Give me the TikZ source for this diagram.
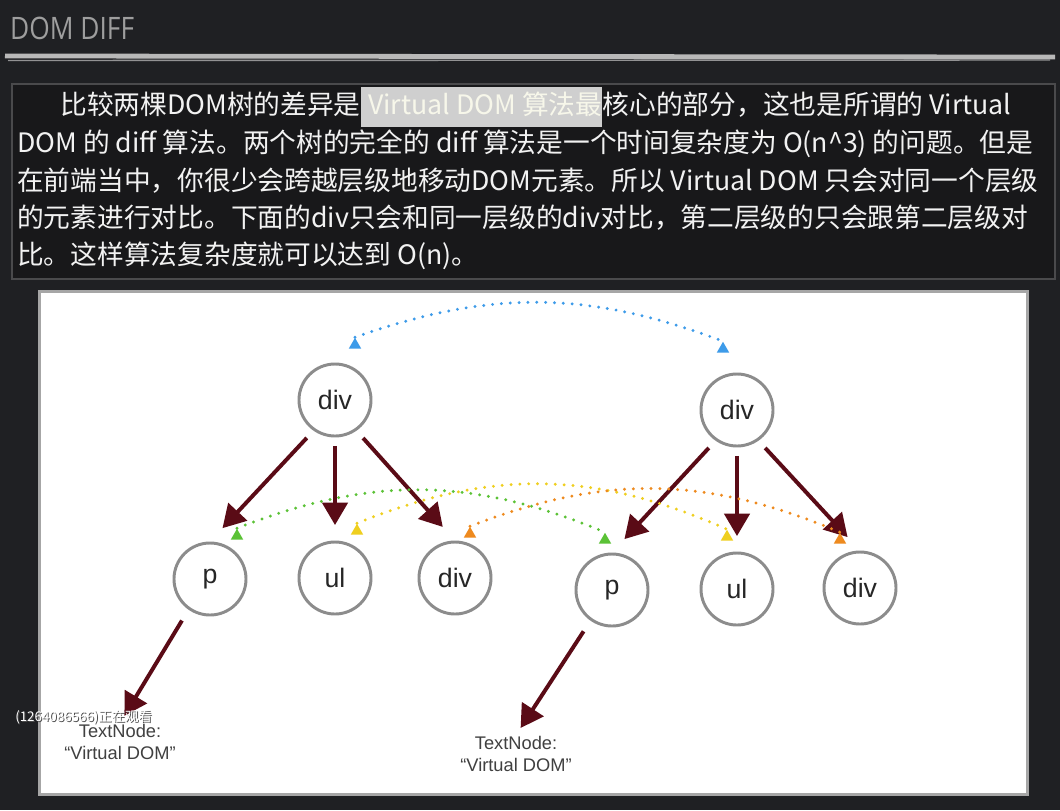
\documentclass[tikz,border=0pt]{standalone}
\usepackage{fontspec}
\setmainfont{Liberation Sans}
\newfontfamily\cjk{Noto Sans CJK SC}
\newfontfamily\titlefont{Open Sans}
\usetikzlibrary{positioning,arrows.meta,shapes.geometric}

\definecolor{bgdark}{HTML}{1F2023}
\definecolor{boxdark}{HTML}{18181A}
\definecolor{boxline}{HTML}{4A4A4C}
\definecolor{rulegray}{HTML}{B8B8B8}
\definecolor{titlegray}{HTML}{9E9E9E}
\definecolor{ring}{HTML}{8C8C8C}
\definecolor{maroon}{HTML}{5A0B16}
\definecolor{cblue}{HTML}{3D9BE9}
\definecolor{cgreen}{HTML}{5BC236}
\definecolor{cyellow}{HTML}{EFCF1F}
\definecolor{corange}{HTML}{EE8A1E}
\definecolor{hlgray}{HTML}{CFCFCF}
\definecolor{hltext}{HTML}{F7F7EA}

\tikzset{
  elem/.style={circle, draw=ring, line width=2.1pt, minimum size=1.8cm, inner sep=0pt,
    font=\fontsize{19}{22}\selectfont, text=black!85},
  leaf/.style={align=center, inner sep=1pt, font=\fontsize{13}{15}\selectfont, text=black!75},
  tree/.style={draw=maroon, line width=2.8pt, -{Triangle[length=16pt,width=18pt]}},
  marker/.style={regular polygon, regular polygon sides=3, fill=#1, draw=none,
    inner sep=0pt, minimum size=0.36cm},
  samelevel/.style={draw=#1, line width=2.3pt, dash pattern=on 0pt off 6.3pt, line cap=round},
  para/.style={inner sep=0pt, text height=15pt, text depth=4pt, text=white!95!black,
    font=\cjk\fontsize{19}{22}\selectfont},
}

\begin{document}
\begin{tikzpicture}[x=0.025cm, y=0.025cm]
  % page
  \fill[bgdark] (0,0) rectangle (1060,-810);
  \useasboundingbox (0,0) rectangle (1060,-810);

  % heading
  \node[anchor=west, font=\titlefont\fontsize{22}{26}\selectfont, text=titlegray,
    xscale=0.85, transform shape] (title) at (6,-28) {DOM DIFF};
  \draw[rulegray, line width=3.4pt] (5,-56) -- (1055,-57);
  \draw[rulegray!75!bgdark, line width=1pt] (8,-60.5) -- (1050,-60);

  % text box
  \draw[boxline, fill=boxdark, line width=0.8pt] (12,-84) rectangle (1055,-279);
  \node[para, anchor=west] (l1a) at (60,-107) {比较两棵DOM树的差异是};
  \node[para, right=0pt of l1a, fill=hlgray, inner ysep=5pt, text=hltext] (l1b) {\hspace{5pt}Virtual DOM 算法最\hspace{2pt}};
  \node[para, right=0pt of l1b] (l1c) {核心的部分，这也是所谓的 Virtual};
  \node[para, anchor=west] (l2) at (17,-145) {DOM 的 diff 算法。两个树的完全的 diff 算法是一个时间复杂度为 O(n\textasciicircum3) 的问题。但是};
  \node[para, anchor=west] (l3) at (17,-183) {在前端当中，你很少会跨越层级地移动DOM元素。所以 Virtual DOM 只会对同一个层级};
  \node[para, anchor=west] (l4) at (17,-220) {的元素进行对比。下面的div只会和同一层级的div对比，第二层级的只会跟第二层级对};
  \node[para, anchor=west] (l5) at (17,-257) {比。这样算法复杂度就可以达到 O(n)。};

  % diagram panel
  \fill[gray!70] (38,-290) rectangle (1029,-796);
  \fill[white] (41,-293) rectangle (1026,-793);

  % two trees
  \node[elem] (root1) at (335,-400) {div};
  \node[elem] (p1) at (210,-579) {p};
  \node[elem] (ul1) at (335,-578) {ul};
  \node[elem] (div1) at (455,-578) {div};

  \node[elem] (root2) at (737,-410) {div};
  \node[elem] (p2) at (612,-590) {p};
  \node[elem] (ul2) at (737,-589) {ul};
  \node[elem] (div2) at (860,-588) {div};

  \node[leaf] (txt1) at (120,-742) {TextNode:\\“Virtual DOM”};
  \node[leaf] (txt2) at (516,-754) {TextNode:\\“Virtual DOM”};

  \draw[tree, shorten <=7pt, shorten >=13pt] (root1.235) -- (p1.90);
  \draw[tree, shorten <=6pt, shorten >=11pt] (root1.south) -- (ul1.north);
  \draw[tree, shorten <=7pt, shorten >=13pt] (root1.305) -- (div1.90);
  \draw[tree, shorten <=7pt, shorten >=13pt] (root2.235) -- (p2.90);
  \draw[tree, shorten <=6pt, shorten >=11pt] (root2.south) -- (ul2.north);
  \draw[tree, shorten <=7pt, shorten >=13pt] (root2.305) -- (div2.90);
  \draw[tree, shorten <=9pt, shorten >=6pt] (p1.235) -- (txt1.north);
  \draw[tree, shorten <=9pt, shorten >=6pt] (p2.235) -- (txt2.north);

  % same-level comparison
  \node[marker=cblue] (b1) at (355,-345) {};
  \node[marker=cblue] (b2) at (723,-349) {};
  \node[marker=cgreen] (g1) at (237,-536) {};
  \node[marker=cgreen] (g2) at (605,-540) {};
  \node[marker=cyellow] (y1) at (357,-531) {};
  \node[marker=cyellow] (y2) at (727,-537) {};
  \node[marker=corange] (o1) at (470,-534) {};
  \node[marker=corange] (o2) at (840,-540) {};

  \draw[samelevel=cblue] (b1.north) to[bend left=20] (b2.north);
  \draw[samelevel=cgreen] (g1.north) to[bend left=22] (g2.north);
  \draw[samelevel=cyellow] (y1.north) to[bend left=23] (y2.north);
  \draw[samelevel=corange] (o1.north) to[bend left=22] (o2.north);

  % viewer overlay
  \node[anchor=west, font=\cjk\fontsize{9.5}{11}\selectfont, text=black!70, inner sep=0pt] (watchshade) at (16,-718) {(1264086566)正在观看};
  \node[anchor=west, font=\cjk\fontsize{9.5}{11}\selectfont, text=white, inner sep=0pt] (watch) at (15,-717) {(1264086566)正在观看};
\end{tikzpicture}
\end{document}
